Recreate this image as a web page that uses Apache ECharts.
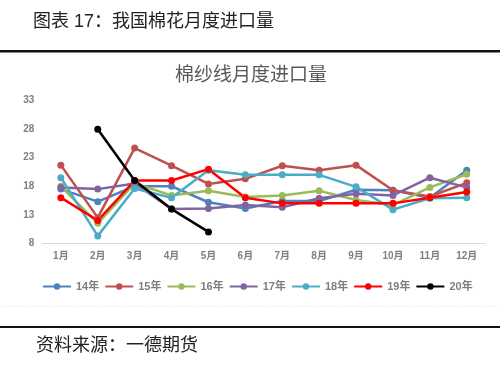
<!DOCTYPE html>
<html><head><meta charset="utf-8">
<script src="https://cdn.jsdelivr.net/npm/echarts@6/dist/echarts.min.js"></script>
<style>html,body{margin:0;padding:0;background:#fff}#c{width:500px;height:370px}</style>
</head><body><div id="c"></div>
<script>
const months = ['1月','2月','3月','4月','5月','6月','7月','8月','9月','10月','11月','12月'];
const y14 = [17.5,15.3,18,18,15.2,14.1,15.4,15.4,17.4,17.3,16,20.8];
const y15 = [21.7,12.5,24.7,21.6,18.4,19.3,21.6,20.8,21.7,17.3,16.2,18.6];
const y16 = [18,11.5,18.5,16.4,17.2,16.1,16.4,17.2,15.6,14.7,17.8,20.1];
const y17 = [17.8,17.5,18.5,14,14.1,14.7,14.3,15.9,16.7,16.4,19.5,17.8];
const y18 = [19.5,9.3,17.6,16,20.8,20,20,20,17.9,13.9,15.9,16];
const y19 = [16,12,19,19,21,16,15,15,15,15,16,17];
const y20 = [null,28,19,14,10];
const names = ['14年','15年','16年','17年','18年','19年','20年'];
const colors = ['#4F81BD','#C0504D','#9BBB59','#8064A2','#4BACC6','#FF0000','#000000'];
const datas = [y14,y15,y16,y17,y18,y19,y20];
const chart = echarts.init(document.getElementById('c'));
const font = 'Arial, "Noto Sans CJK SC", sans-serif';
chart.setOption({
  animation:false,
  backgroundColor:'#fff',
  color: colors,
  title:[
    {text:'图表 17：我国棉花月度进口量', left:28, top:8, textStyle:{fontSize:18, fontWeight:'normal', color:'#222', fontFamily:font}},
    {text:'棉纱线月度进口量', left:170, top:61, textStyle:{fontSize:19, fontWeight:'normal', color:'#595959', fontFamily:font}},
    {text:'资料来源：一德期货', left:31, top:332, textStyle:{fontSize:18, fontWeight:'normal', color:'#222', fontFamily:font}}
  ],
  graphic:[
    {type:'rect', shape:{x:0,y:50,width:500,height:2.5}, style:{fill:'#111'}},
    {type:'rect', shape:{x:0,y:326,width:500,height:2}, style:{fill:'#111'}},
    {type:'line', shape:{x1:2,y1:306.5,x2:498,y2:306.5}, style:{stroke:'#ddd', lineDash:[1,2], lineWidth:1}}
  ],
  grid:{left:42.4, right:14.8, top:100.7, bottom:126.7},
  legend:{
    data:names, left:37, top:276, itemGap:5, itemWidth:28, itemHeight:8,
    textStyle:{color:'#7f7f7f', fontSize:11, fontWeight:'bold', fontFamily:font}
  },
  xAxis:{
    type:'category', data:months, boundaryGap:true,
    axisLine:{lineStyle:{color:'#d9d9d9'}}, axisTick:{show:false},
    axisLabel:{color:'#7f7f7f', fontSize:10, fontWeight:'bold', margin:8, fontFamily:font}
  },
  yAxis:{
    type:'value', min:8, max:33, interval:5,
    axisLine:{show:false}, axisTick:{show:false}, splitLine:{show:false},
    axisLabel:{color:'#7f7f7f', fontSize:10, fontWeight:'bold', margin:8, fontFamily:font}
  },
  series: names.map((n,i)=>({
    name:n, type:'line', data:datas[i], symbol:'circle', symbolSize:7,
    lineStyle:{width:2.5, color:colors[i]}, itemStyle:{color:colors[i]}, connectNulls:false
  }))
});
</script></body></html>
